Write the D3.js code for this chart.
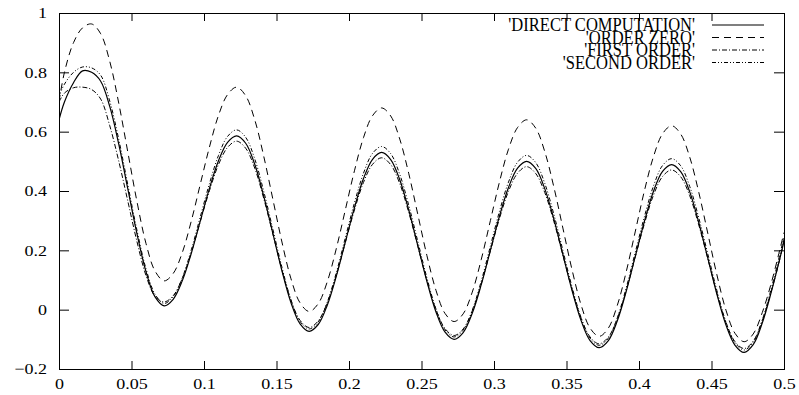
<!DOCTYPE html>
<html>
<head>
<meta charset="utf-8">
<script src="https://cdn.jsdelivr.net/npm/d3@7"></script>
<style>
  body { margin: 0; background: #fff; }
  #chart { width: 799px; height: 395px; }
</style>
</head>
<body>
<div id="chart"></div>
<script>
// x positions of the samples
var xValues = [0, 0.00375, 0.01, 0.01625,
  0.0225, 0.02875, 0.035, 0.04125, 0.0475, 0.05375, 0.06, 0.06625,
  0.0725, 0.07875, 0.085, 0.09125, 0.0975, 0.10375, 0.11, 0.11625,
  0.1225, 0.12875, 0.135, 0.14125, 0.1475, 0.15375, 0.16, 0.16625,
  0.1725, 0.17875, 0.185, 0.19125, 0.1975, 0.20375, 0.21, 0.21625,
  0.2225, 0.22875, 0.235, 0.24125, 0.2475, 0.25375, 0.26, 0.26625,
  0.2725, 0.27875, 0.285, 0.29125, 0.2975, 0.30375, 0.31, 0.31625,
  0.3225, 0.32875, 0.335, 0.34125, 0.3475, 0.35375, 0.36, 0.36625,
  0.3725, 0.37875, 0.385, 0.39125, 0.3975, 0.40375, 0.41, 0.41625,
  0.4225, 0.42875, 0.435, 0.44125, 0.4475, 0.45375, 0.46, 0.46625,
  0.4725, 0.47875, 0.485, 0.49125, 0.4975, 0.5];

var directComputation = [0.64, 0.70, 0.765, 0.805,
  0.80, 0.770, 0.685, 0.557, 0.406, 0.256, 0.128, 0.043,
  0.013, 0.035, 0.097, 0.190, 0.300, 0.409, 0.502, 0.564,
  0.586, 0.561, 0.490, 0.382, 0.257, 0.131, 0.023, -0.048,
  -0.073, -0.050, 0.015, 0.113, 0.229, 0.344, 0.442, 0.507,
  0.530, 0.506, 0.438, 0.335, 0.215, 0.095, -0.008, -0.076,
  -0.100, -0.077, -0.012, 0.085, 0.200, 0.315, 0.412, 0.477,
  0.500, 0.476, 0.408, 0.306, 0.186, 0.066, -0.036, -0.104,
  -0.128, -0.105, -0.038, 0.063, 0.181, 0.298, 0.399, 0.466,
  0.489, 0.465, 0.397, 0.293, 0.173, 0.052, -0.052, -0.120,
  -0.144, -0.118, -0.045, 0.060, 0.180, 0.230];

var orderZero = [0.70, 0.80, 0.90, 0.95,
  0.963, 0.930, 0.837, 0.695, 0.530, 0.365, 0.223, 0.130,
  0.097, 0.122, 0.192, 0.299, 0.424, 0.548, 0.655, 0.725,
  0.750, 0.721, 0.640, 0.516, 0.372, 0.228, 0.104, 0.023,
  -0.006, 0.020, 0.094, 0.206, 0.337, 0.468, 0.580, 0.654,
  0.680, 0.653, 0.575, 0.458, 0.320, 0.182, 0.065, -0.013,
  -0.040, -0.014, 0.059, 0.170, 0.300, 0.430, 0.541, 0.614,
  0.640, 0.612, 0.533, 0.414, 0.275, 0.136, 0.017, -0.062,
  -0.090, -0.063, 0.014, 0.129, 0.265, 0.401, 0.516, 0.593,
  0.620, 0.592, 0.514, 0.395, 0.256, 0.117, -0.002, -0.080,
  -0.108, -0.082, -0.010, 0.090, 0.210, 0.260];

var firstOrder = [0.70, 0.73, 0.748, 0.75,
  0.742, 0.710, 0.620, 0.500, 0.365, 0.230, 0.115, 0.045,
  0.026, 0.047, 0.105, 0.193, 0.298, 0.401, 0.489, 0.547,
  0.568, 0.544, 0.477, 0.374, 0.255, 0.134, 0.031, -0.036,
  -0.060, -0.038, 0.023, 0.116, 0.227, 0.336, 0.429, 0.490,
  0.512, 0.489, 0.425, 0.327, 0.213, 0.098, 0.000, -0.064,
  -0.087, -0.065, -0.004, 0.088, 0.198, 0.307, 0.399, 0.460,
  0.482, 0.459, 0.395, 0.298, 0.184, 0.069, -0.028, -0.092,
  -0.115, -0.093, -0.030, 0.066, 0.179, 0.290, 0.386, 0.449,
  0.471, 0.448, 0.384, 0.285, 0.171, 0.055, -0.044, -0.108,
  -0.131, -0.106, -0.037, 0.063, 0.178, 0.240];

var secondOrder = [0.72, 0.76, 0.80, 0.818,
  0.815, 0.790, 0.703, 0.573, 0.420, 0.268, 0.138, 0.052,
  0.021, 0.044, 0.107, 0.202, 0.314, 0.425, 0.520, 0.584,
  0.606, 0.581, 0.508, 0.398, 0.271, 0.143, 0.033, -0.040,
  -0.065, -0.042, 0.025, 0.125, 0.243, 0.360, 0.460, 0.527,
  0.550, 0.526, 0.456, 0.351, 0.229, 0.107, 0.002, -0.068,
  -0.092, -0.069, -0.002, 0.097, 0.214, 0.331, 0.430, 0.497,
  0.520, 0.496, 0.426, 0.322, 0.200, 0.078, -0.026, -0.096,
  -0.120, -0.097, -0.028, 0.075, 0.195, 0.314, 0.417, 0.486,
  0.509, 0.485, 0.415, 0.309, 0.187, 0.064, -0.042, -0.112,
  -0.136, -0.110, -0.035, 0.072, 0.194, 0.245];

var seriesNames = ["'DIRECT COMPUTATION'", "'ORDER ZERO'", "'FIRST ORDER'", "'SECOND ORDER'"];

var xTicks = [0, 0.05, 0.1, 0.15, 0.2, 0.25, 0.3, 0.35, 0.4, 0.45, 0.5];
var xTickLabels = ["0", "0.05", "0.1", "0.15", "0.2", "0.25", "0.3", "0.35", "0.4", "0.45", "0.5"];
var yTicks = [-0.2, 0, 0.2, 0.4, 0.6, 0.8, 1];
var yTickLabels = ["\u22120.2", "0", "0.2", "0.4", "0.6", "0.8", "1"];

var margin = {top: 13, right: 15, bottom: 26, left: 59},
    width = 799 - margin.left - margin.right,
    height = 395 - margin.top - margin.bottom;

var svg = d3.select("#chart")
  .append("svg")
    .attr("width", 799)
    .attr("height", 395)
    .attr("font-family", "'Liberation Serif', 'Times New Roman', serif")
  .append("g")
    .attr("transform", "translate(" + margin.left + "," + margin.top + ")");

var x = d3.scaleLinear().domain([0, 0.5]).range([0, width]);
var y = d3.scaleLinear().domain([-0.2, 1]).range([height, 0]);

// ticks point inwards on all four sides, like gnuplot
function styleAxis(g) {
  g.attr("font-family", null);
  g.selectAll("line").attr("stroke", "#000");
  g.select(".domain").remove();
  g.selectAll("text").attr("fill", "#000").style("font-size", "15px");
}

svg.append("g")
  .attr("transform", "translate(0," + height + ")")
  .call(d3.axisBottom(x).tickValues(xTicks)
    .tickFormat(function (d, i) { return xTickLabels[i]; })
    .tickSize(-8).tickPadding(9))
  .call(styleAxis);

svg.append("g")
  .call(d3.axisTop(x).tickValues(xTicks).tickFormat("").tickSize(-8))
  .call(styleAxis);

svg.append("g")
  .call(d3.axisLeft(y).tickValues(yTicks)
    .tickFormat(function (d, i) { return yTickLabels[i]; })
    .tickSize(-10).tickPadding(12))
  .call(styleAxis);

svg.append("g")
  .attr("transform", "translate(" + width + ",0)")
  .call(d3.axisRight(y).tickValues(yTicks).tickFormat("").tickSize(-10))
  .call(styleAxis);

// the original font is drawn a bit wide
svg.selectAll(".tick text").each(function () {
  var len = this.getComputedTextLength();
  d3.select(this).attr("textLength", len * 1.2).attr("lengthAdjust", "spacingAndGlyphs");
});

svg.append("rect")
  .attr("x", 0.5).attr("y", 0.5)
  .attr("width", width).attr("height", height)
  .attr("fill", "none")
  .attr("stroke", "#000");

svg.append("clipPath").attr("id", "clip")
  .append("rect").attr("width", width).attr("height", height);

var series = [
  {name: seriesNames[0], values: directComputation, dash: null, w: 1.2},
  {name: seriesNames[1], values: orderZero, dash: "7,5", w: 1},
  {name: seriesNames[2], values: firstOrder, dash: "5,2,1,2", w: 1},
  {name: seriesNames[3], values: secondOrder, dash: "4,2,1,2,1,2", w: 1}
];

var line = d3.line()
  .x(function (d) { return x(d[0]); })
  .y(function (d) { return y(d[1]); })
  .curve(d3.curveCatmullRom.alpha(0.5));

svg.append("g").attr("clip-path", "url(#clip)")
  .selectAll("path")
  .data(series)
  .enter()
  .append("path")
    .attr("d", function (s) { return line(xValues.map(function (v, i) { return [v, s.values[i]]; })); })
    .attr("fill", "none")
    .attr("stroke", "#000")
    .attr("stroke-width", function (s) { return s.w; })
    .attr("stroke-dasharray", function (s) { return s.dash; });

// legend, top right inside the frame; rows sit tight like the original
var legend = svg.append("g").attr("transform", "translate(" + (width - 89) + ",12)");

var rows = legend.selectAll("g")
  .data(series)
  .enter()
  .append("g")
    .attr("transform", function (d, i) { return "translate(0," + (i * 12.5) + ")"; });

rows.append("text")
  .attr("x", 0)
  .attr("y", 6)
  .attr("text-anchor", "end")
  .attr("fill", "#000")
  .style("font-size", "19px")
  .text(function (d) { return d.name; })
  .each(function () {
    var len = this.getComputedTextLength();
    d3.select(this).attr("textLength", len * 0.87).attr("lengthAdjust", "spacingAndGlyphs");
  });

rows.append("line")
  .attr("x1", 17).attr("x2", 69)
  .attr("y1", 0).attr("y2", 0)
  .attr("stroke", "#000")
  .attr("stroke-width", function (d) { return d.w; })
  .attr("stroke-dasharray", function (d) { return d.dash; });
</script>
</body>
</html>
